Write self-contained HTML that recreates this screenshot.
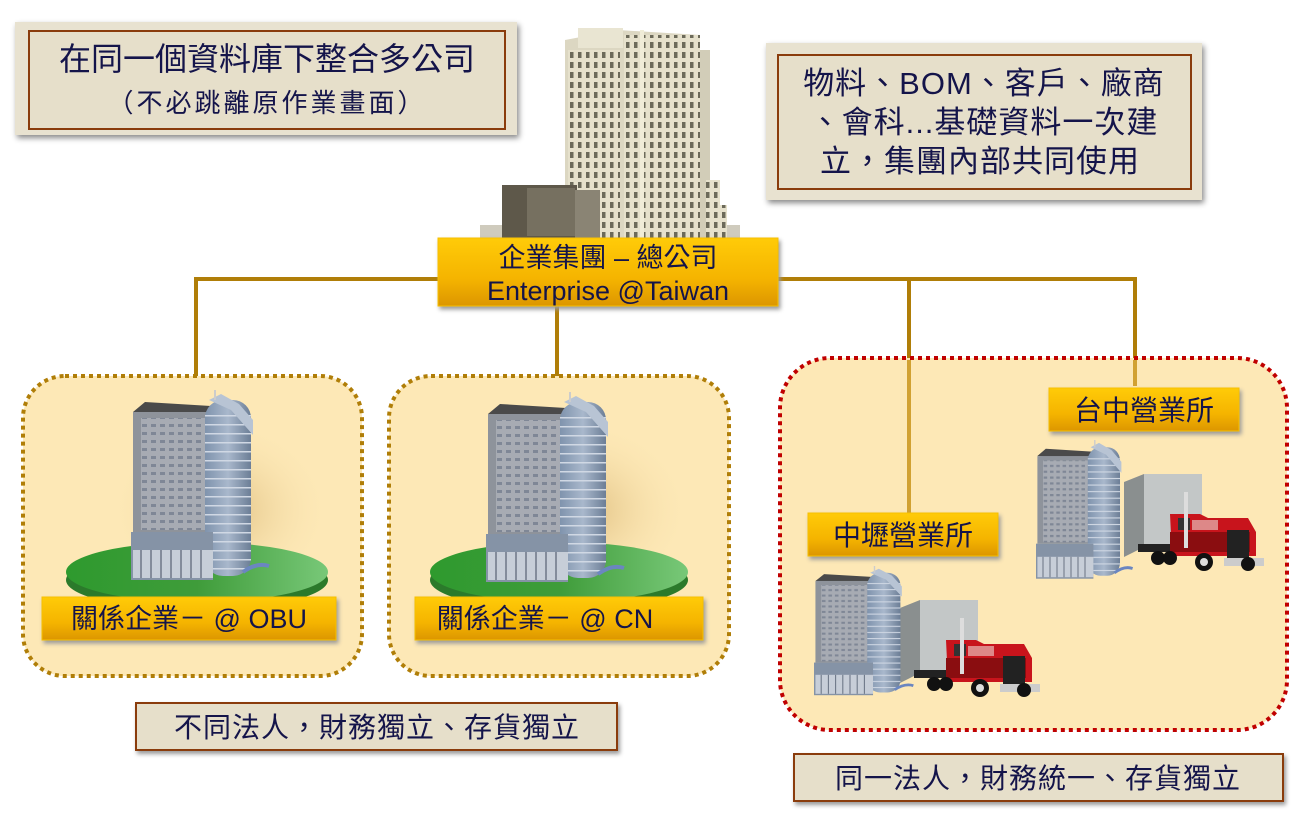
<!DOCTYPE html>
<html><head><meta charset="utf-8"><style>
html,body{margin:0;padding:0;background:#fff;}
svg{display:block;}
text{font-family:"Liberation Sans","Noto Sans CJK TC",sans-serif;fill:#14144a;}
</style></head><body>
<svg width="1292" height="814" viewBox="0 0 1292 814" xmlns="http://www.w3.org/2000/svg">
<defs>
<linearGradient id="gold" x1="0" y1="0" x2="0" y2="1"><stop offset="0" stop-color="#ffcb08"/><stop offset="0.6" stop-color="#f5b400"/><stop offset="1" stop-color="#dc9600"/></linearGradient>
<linearGradient id="grn" x1="0" y1="0" x2="1" y2="0"><stop offset="0" stop-color="#2e9a2e"/><stop offset="0.5" stop-color="#3f9c3a"/><stop offset="1" stop-color="#78c878"/></linearGradient>
<radialGradient id="glow" cx="0.5" cy="0.5" r="0.5"><stop offset="0" stop-color="#c9a15a" stop-opacity="0.6"/><stop offset="1" stop-color="#fde8b4" stop-opacity="0"/></radialGradient>
<linearGradient id="cyl" x1="0" y1="0" x2="1" y2="0"><stop offset="0" stop-color="#7f93ad"/><stop offset="0.5" stop-color="#a9b8cc"/><stop offset="1" stop-color="#6c7e96"/></linearGradient>
<pattern id="win" width="9" height="8" patternUnits="userSpaceOnUse"><rect width="9" height="8" fill="#a7abb3"/><rect x="2" y="2" width="5" height="3" fill="#7f8796"/></pattern>
<pattern id="stripe" width="10" height="9" patternUnits="userSpaceOnUse"><rect width="10" height="9" fill="none"/><rect y="7" width="10" height="1.5" fill="#d0d8e4"/></pattern>
<pattern id="twin" width="8" height="10" patternUnits="userSpaceOnUse"><rect width="8" height="10" fill="#e6e1cc"/><rect x="2" y="2" width="3.5" height="6" fill="#6c6a5a"/></pattern>
<g id="bld">
  <polygon points="2,22 14,12 80,16 80,28" fill="#4a4a4a"/>
  <rect x="2" y="22" width="78" height="120" fill="#8e939b"/>
  <rect x="10" y="28" width="68" height="112" fill="url(#win)"/>
  <rect x="74" y="10" width="46" height="176" rx="18" fill="url(#cyl)"/>
  <rect x="74" y="20" width="46" height="160" fill="url(#stripe)"/>
  <polygon points="78,10 90,4 108,14 122,30 122,45 100,20" fill="#b8c4d4"/>
  <line x1="84" y1="10" x2="84" y2="0" stroke="#ccc" stroke-width="2"/>
  <rect x="0" y="142" width="82" height="48" fill="#8593a6"/>
  <rect x="2" y="160" width="80" height="28" fill="#c7ced8"/>
  <g stroke="#6d7787" stroke-width="1.5"><line x1="10" y1="160" x2="10" y2="188"/><line x1="20" y1="160" x2="20" y2="188"/><line x1="30" y1="160" x2="30" y2="188"/><line x1="40" y1="160" x2="40" y2="188"/><line x1="50" y1="160" x2="50" y2="188"/><line x1="60" y1="160" x2="60" y2="188"/><line x1="70" y1="160" x2="70" y2="188"/></g>
  <path d="M112,182 q14,-10 26,-6" stroke="#6b86c0" stroke-width="4" fill="none"/>
</g>
<g id="truck">
  <polygon points="0,10 20,2 20,75 0,85" fill="#8a8f8f"/>
  <rect x="20" y="2" width="58" height="70" fill="#c3c7c7"/>
  <rect x="14" y="72" width="70" height="8" fill="#222"/>
  <path d="M46,42 h30 l8,4 h40 l8,14 v24 h-84 z" fill="#c8141c"/>
  <path d="M46,60 h80 v20 h-80 z" fill="#8a0d10"/>
  <rect x="54" y="46" width="12" height="12" fill="#333"/>
  <rect x="68" y="48" width="26" height="10" fill="#d88"/>
  <rect x="103" y="58" width="22" height="30" fill="#222"/>
  <rect x="100" y="86" width="40" height="8" fill="#ccc"/>
  <rect x="60" y="20" width="4" height="56" fill="#ddd"/>
  <circle cx="34" cy="86" r="7" fill="#111"/><circle cx="46" cy="86" r="7" fill="#111"/>
  <circle cx="80" cy="90" r="9" fill="#111"/><circle cx="80" cy="90" r="4" fill="#ddd"/>
  <circle cx="124" cy="92" r="7" fill="#111"/>
</g>
</defs>

<!-- HQ building -->
<rect x="480" y="225" width="260" height="15" fill="#cfcbbd"/>
<polygon points="565,40 618,30 700,35 700,238 565,238" fill="#dcd7c2"/>
<rect x="578" y="28" width="45" height="20" fill="#e9e5d2"/>
<rect x="568" y="50" width="52" height="188" fill="url(#twin)"/>
<rect x="624" y="35" width="76" height="203" fill="url(#twin)"/>
<rect x="640" y="30" width="4" height="208" fill="#f0ecd8"/>
<rect x="700" y="50" width="10" height="188" fill="#d2cdb8"/>
<rect x="706" y="180" width="14" height="58" fill="url(#twin)"/>
<rect x="712" y="205" width="15" height="33" fill="url(#twin)"/>
<rect x="502" y="185" width="75" height="53" fill="#5e584a"/>
<rect x="527" y="188" width="48" height="48" fill="#767060"/>
<rect x="575" y="190" width="25" height="48" fill="#8a8474"/>

<!-- top-left note -->
<rect x="15" y="22" width="502" height="113" fill="#e8e2d0" filter="drop-shadow(2px 3px 3px #888)"/>
<rect x="29" y="31" width="476" height="98" fill="#e6dfca" stroke="#8a3c0c" stroke-width="2"/>
<text x="267" y="70" font-size="32" text-anchor="middle">在同一個資料庫下整合多公司</text>
<text x="267" y="112" font-size="26" letter-spacing="3" text-anchor="middle">（不必跳離原作業畫面）</text>

<!-- top-right note -->
<rect x="766" y="43" width="436" height="157" fill="#e8e2d0" filter="drop-shadow(2px 3px 3px #888)"/>
<rect x="778" y="55" width="413" height="134" fill="#e6dfca" stroke="#8a3c0c" stroke-width="2"/>
<text x="984" y="94" font-size="31" text-anchor="middle" letter-spacing="1">物料、BOM、客戶、廠商</text>
<text x="984" y="133" font-size="31" text-anchor="middle" letter-spacing="1">、會科...基礎資料一次建</text>
<text x="980" y="172" font-size="31" text-anchor="middle" letter-spacing="1">立，集團內部共同使用</text>

<!-- connectors -->
<g stroke="#b07e08" stroke-width="4" fill="none">
<polyline points="196,376 196,279 1135,279 1135,360"/>
<line x1="557" y1="306" x2="557" y2="376"/>
<line x1="909" y1="279" x2="909" y2="360"/>
</g>

<!-- dashed boxes -->
<rect x="23" y="376" width="339" height="300" rx="42" fill="#fde8b6" stroke="#b07e08" stroke-width="4" stroke-dasharray="4,4"/>
<rect x="389" y="376" width="340" height="300" rx="42" fill="#fde8b6" stroke="#b07e08" stroke-width="4" stroke-dasharray="4,4"/>
<rect x="780" y="358" width="507" height="372" rx="50" fill="#fde8b6" stroke="#c00000" stroke-width="4" stroke-dasharray="4,4"/>
<g stroke="#d1a132" stroke-width="4">
<line x1="909" y1="360" x2="909" y2="514"/>
<line x1="1135" y1="360" x2="1135" y2="386"/>
</g>

<!-- green platforms + buildings -->
<ellipse cx="220" cy="510" rx="110" ry="90" fill="url(#glow)"/>
<ellipse cx="197" cy="580" rx="131" ry="30" fill="#2b7a2b"/>
<ellipse cx="197" cy="572" rx="131" ry="30" fill="url(#grn)"/>
<use href="#bld" x="131" y="390"/>
<ellipse cx="580" cy="510" rx="110" ry="90" fill="url(#glow)"/>
<ellipse cx="559" cy="580" rx="129" ry="30" fill="#2b7a2b"/>
<ellipse cx="559" cy="572" rx="129" ry="30" fill="url(#grn)"/>
<use href="#bld" x="486" y="392"/>

<use href="#truck" x="1124" y="472"/>
<use href="#bld" transform="translate(1036,440) scale(0.7,0.73)"/>
<use href="#truck" x="900" y="598"/>
<use href="#bld" transform="translate(814,566) scale(0.72,0.68)"/>

<!-- gold labels -->
<g filter="drop-shadow(2px 3px 2px #999)">
<rect x="438" y="238" width="340" height="68" fill="url(#gold)" stroke="#f7c000"/>
<rect x="42" y="597" width="294" height="43" fill="url(#gold)" stroke="#f7c000"/>
<rect x="415" y="597" width="288" height="43" fill="url(#gold)" stroke="#f7c000"/>
<rect x="808" y="513" width="190" height="43" fill="url(#gold)" stroke="#f7c000"/>
<rect x="1049" y="388" width="190" height="43" fill="url(#gold)" stroke="#f7c000"/>
</g>
<text x="608" y="267" font-size="27" text-anchor="middle">企業集團 – 總公司</text>
<text x="608" y="300" font-size="27" text-anchor="middle">Enterprise @Taiwan</text>
<text x="189" y="628" font-size="27" text-anchor="middle">關係企業－ @ OBU</text>
<text x="545" y="628" font-size="27" text-anchor="middle">關係企業－ @ CN</text>
<text x="903" y="545" font-size="28" text-anchor="middle">中壢營業所</text>
<text x="1144" y="420" font-size="28" text-anchor="middle">台中營業所</text>

<!-- bottom notes -->
<rect x="136" y="703" width="481" height="47" fill="#e6dfca" stroke="#8a3c0c" stroke-width="2" filter="drop-shadow(2px 3px 2px #999)"/>
<text x="377" y="737" font-size="28" letter-spacing="1" text-anchor="middle">不同法人，財務獨立、存貨獨立</text>
<rect x="794" y="754" width="489" height="47" fill="#e6dfca" stroke="#8a3c0c" stroke-width="2" filter="drop-shadow(2px 3px 2px #999)"/>
<text x="1038" y="788" font-size="28" letter-spacing="1" text-anchor="middle">同一法人，財務統一、存貨獨立</text>
</svg>
</body></html>
